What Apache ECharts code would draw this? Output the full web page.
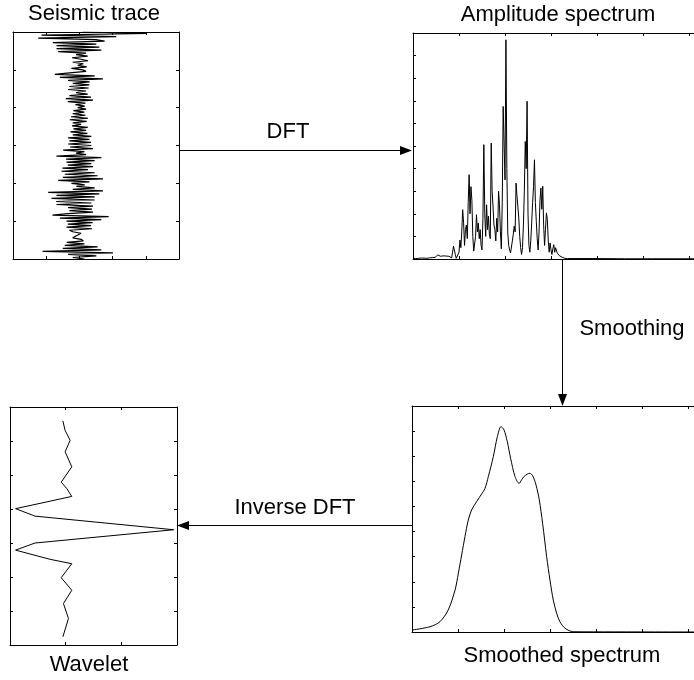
<!DOCTYPE html>
<html>
<head>
<meta charset="utf-8">
<script src="https://cdn.jsdelivr.net/npm/echarts@6/dist/echarts.min.js"></script>
<style>
  html, body { margin: 0; padding: 0; background: #fff; }
  #chart { width: 694px; height: 680px; }
</style>
</head>
<body>
<div id="chart"></div>
<script>
// Seismic trace: one amplitude per sample, first sample at the top
const traceStepMs = 4;
const traceAmp = [
  0.1, 2.02, -1.14, 1.11, -1.24, 0.5,
  0.76, -0.8, 0.51, -0.69, 0.6, -0.69, 0.66, -0.64,
  0.2, -0.1, 0.25, -0.22, 0.05, 0.26, -0.2, 0.12, -0.05, 0.22, -0.24, 0.1, 0.2, -0.3,
  -0.74, 0.46, -0.59, 0.71,
  -0.34, 0.31, -0.2, 0.3, -0.3, 0.28, -0.34,
  0.2, -0.1, 0.25, -0.3, 0.35, -0.41, 0.41,
  -0.35, 0.18, -0.12, 0.16, -0.05, 0.2, -0.18, 0.15, -0.2, 0.18,
  -0.25, 0.26, -0.29, 0.22, -0.2, 0.05, -0.22, 0.25, -0.18, 0.2, -0.27, 0.24, -0.2,
  0.36, -0.34, 0.3, -0.3, 0.35, -0.34, 0.36, -0.28,
  0.41, -0.49, 0.15, -0.1, 0.2,
  -0.69, 0.66, -0.4, 0.46,
  -0.39, 0.36, -0.35, 0.41, -0.51,
  0.26, -0.54, 0.46, -0.44, 0.55,
  -0.5, 0.71, -0.64, 0.3, -0.24,
  0.16, -0.09, 0.46, -0.2,
  0.71, -0.94, 0.6, -0.69,
  0.46, -0.84, 0.46, -0.7, 0.36,
  -0.69, 0.41, -0.34, 0.38, -0.3, 0.41, -0.34,
  -0.81, 0.88, -0.59,
  0.66, -0.39, 0.4, -0.35, 0.35, -0.39, 0.38, -0.3,
  -0.2, 0.05, 0.1, -0.12, -0.2, 0.05, 0.12, -0.38, 0.15,
  -0.44, 0.55, -0.5, 0.66,
  -1.11, 1.01, -0.34,
  0.51, -0.2, 0.15
];

// Amplitude spectrum, sampled every specStep Hz starting at 0 Hz
const specStep = 0.5;
const specAmp = [
  0.02, 0.02, 0.03, 0.02, 0.02, 0.03, 0.03, 0.02, 0.03, 0.04, 0.03, 0.03, 0.04, 0.05,
  0.04, 0.03, 0.04, 0.05, 0.05, 0.04, 0.05, 0.06, 0.05, 0.06, 0.07, 0.08, 0.1,
  0.18, 0.25, 0.15, 0.12, 0.19, 0.17, 0.14, 0.2, 0.16, 0.13, 0.18, 0.2, 0.12, 0.08, 0.15, 0.05,
  0.3, 0.57, 0.5, 0.2, 0.03, 0.02,
  0.05, 0.3, 0.84, 0.5, 1.2, 2.18,
  1.6, 0.6, 1.3, 1.5, 0.9, 2.5,
  3.73, 2.0, 3.2, 2.6, 1.0, 0.35,
  0.35, 1.0, 1.96, 1.2, 1.59, 0.9,
  1.3, 0.6, 0.4, 1.8, 5.06, 2.0,
  1.0, 2.4, 1.3, 1.9, 1.1, 0.9,
  5.13, 3.0, 2.3, 1.5, 1.3, 0.8,
  1.8, 1.2, 3.0, 2.4, 1.2, 0.45,
  2.5, 6.75, 6.77, 3.5, 9.7, 4.0,
  1.15, 0.6, 0.4, 0.27, 0.3, 0.8,
  1.1, 1.45, 1.2, 3.36, 2.8, 2.85,
  1.8, 1.0, 0.5, 0.2, 0.5, 1.5,
  3.0, 5.2, 4.0, 6.98, 2.0, 0.6,
  0.3, 0.8, 1.6, 2.5, 3.2, 4.39,
  2.5, 1.67, 0.9, 0.4, 1.2, 2.6,
  3.14, 2.2, 3.22, 1.5, 0.6, 1.3,
  2.04, 1.75, 0.8, 0.3, 0.71, 0.4,
  0.2, 0.45, 0.63, 0.3, 0.5, 0.35,
  0.25, 0.2, 0.15, 0.1, 0.12, 0.08,
  0.05, 0.04, 0.03, 0.03, 0.02, 0.02, 0.02, 0.02
];
// High-frequency tail of the spectrum (Hz, amplitude)
const specTailFreq = [88, 100, 115, 130, 145, 160];
const specTailAmp = [0.02, 0.02, 0.01, 0.01, 0.01, 0.01];

// Smoothed amplitude spectrum (Hz, amplitude)
const smoothFreq = [0.2, 9.8, 15.2, 19.7, 23.4, 25.2, 27.0, 28.8, 30.6, 32.4, 35.1, 37.9, 39.7, 41.5,
  44.2, 46.4, 48.4, 50.0, 51.8, 53.6, 56.0, 58.2, 59.6, 60.9, 62.7, 64.1, 65.6, 67.4, 69.2,
  71.0, 73.2, 75.0, 76.8, 78.6, 80.4, 83.2, 87.7, 110, 160];
const smoothAmp = [0.08, 0.21, 0.41, 0.88, 1.67, 2.34, 3.07, 3.80, 4.46, 4.86, 5.19, 5.50, 5.72, 6.19,
  6.98, 7.78, 8.18, 8.05, 7.58, 6.92, 6.19, 5.92, 6.06, 6.19, 6.29, 6.32, 6.22, 5.86, 5.26,
  4.33, 3.0, 2.07, 1.27, 0.75, 0.41, 0.15, 0.01, 0.005, 0.0];

// Extracted wavelet: time (top to bottom) and amplitude
const waveTime = [0.41, 0.69, 0.98, 1.32, 1.76, 2.21, 2.40, 2.63, 2.77, 2.99, 3.21, 3.61,
  4.0, 4.21, 4.48, 4.61, 5.02, 5.39, 5.78, 6.22, 6.76];
const waveAmp = [0.95, 0.99, 1.08, 0.99, 1.11, 0.92, 1.02, 1.11, 0.72, 0.10, 0.45, 2.94,
  0.45, 0.10, 0.72, 1.11, 0.92, 1.11, 0.96, 1.05, 0.95];

// Text
const panelTitles = ['Seismic trace', 'Amplitude spectrum', 'Wavelet', 'Smoothed spectrum'];
const stepLabels = ['DFT', 'Smoothing', 'Inverse DFT'];

const FONT = '"Liberation Sans", Arial, Helvetica, sans-serif';
const FONT_SIZE = 22;

// Panel frames: [left, top, width, height]; spectrum panels run past the right edge,
// so their right-hand axis is left out and the x range stops at the visible edge.
const panels = [
  { box: [13, 32, 166, 227], x: [-2, 3, 1], y: [0, 600, 100], inverseY: true, rightAxis: true },     // seismic trace
  { box: [413, 33, 281, 226], x: [0, 152.7, 25], y: [0, 10, 1], inverseY: false, rightAxis: false }, // amplitude spectrum
  { box: [10, 407, 167, 238], x: [0, 3, 1], y: [0, 7, 1], inverseY: true, rightAxis: true },          // wavelet
  { box: [412, 406, 282, 226], x: [0, 153.3, 25], y: [0, 9, 1], inverseY: false, rightAxis: false }   // smoothed spectrum
];

const axisCommon = {
  axisLine: { show: true, onZero: false, lineStyle: { color: '#000', width: 1 } },
  axisTick: { show: true, inside: true, length: 3, lineStyle: { color: '#000', width: 1 } },
  axisLabel: { show: false },
  splitLine: { show: false }
};

const grids = [], xAxes = [], yAxes = [];
panels.forEach((p, g) => {
  grids.push({ left: p.box[0], top: p.box[1], width: p.box[2], height: p.box[3], containLabel: false });
  ['bottom', 'top'].forEach(pos => xAxes.push(Object.assign({}, axisCommon, {
    type: 'value', gridIndex: g, position: pos, min: p.x[0], max: p.x[1], interval: p.x[2]
  })));
  ['left', 'right'].forEach(pos => yAxes.push(Object.assign({}, axisCommon, {
    type: 'value', gridIndex: g, position: pos, min: p.y[0], max: p.y[1], interval: p.y[2], inverse: p.inverseY,
    show: pos === 'left' || p.rightAxis
  })));
});

const lineBase = {
  type: 'line', showSymbol: false, symbol: 'none', silent: true, animation: false,
  lineStyle: { color: '#000', width: 1 }
};

const traceData = traceAmp.map((a, i) => [a, i * traceStepMs]);
const specData = specAmp.map((a, i) => [i * specStep, a])
  .concat(specTailFreq.map((f, i) => [f, specTailAmp[i]]));
const smoothData = smoothFreq.map((f, i) => [f, smoothAmp[i]]);
const waveData = waveTime.map((t, i) => [waveAmp[i], t]);

const series = [
  Object.assign({}, lineBase, { xAxisIndex: 0, yAxisIndex: 0, data: traceData, lineStyle: { color: '#000', width: 1.2 } }),
  Object.assign({}, lineBase, { xAxisIndex: 2, yAxisIndex: 2, data: specData }),
  Object.assign({}, lineBase, { xAxisIndex: 4, yAxisIndex: 4, data: waveData }),
  Object.assign({}, lineBase, { xAxisIndex: 6, yAxisIndex: 6, data: smoothData, smooth: 0.3 })
];

// Arrow helper: shaft plus filled head pointing to (x2, y2)
function arrow(x1, y1, x2, y2) {
  const len = 12, half = 4.5;
  const dx = x2 - x1, dy = y2 - y1, d = Math.hypot(dx, dy);
  const ux = dx / d, uy = dy / d;
  const bx = x2 - ux * len, by = y2 - uy * len;
  return [
    { type: 'line', silent: true, shape: { x1: x1, y1: y1, x2: bx, y2: by },
      style: { stroke: '#000', lineWidth: 1 } },
    { type: 'polygon', silent: true,
      shape: { points: [[x2, y2], [bx - uy * half, by + ux * half], [bx + uy * half, by - ux * half]] },
      style: { fill: '#000' } }
  ];
}

function label(text, x, y) {
  return { type: 'text', silent: true, x: x, y: y,
    style: { text: text, fill: '#000', font: FONT_SIZE + 'px ' + FONT, align: 'center', verticalAlign: 'middle' } };
}

const graphics = []
  .concat(arrow(179, 150.5, 412, 150.5))
  .concat(arrow(562.5, 259, 562.5, 406))
  .concat(arrow(412, 525.5, 177, 525.5))
  .concat([
    label(panelTitles[0], 94, 14),
    label(panelTitles[1], 558, 15),
    label(panelTitles[2], 89, 665),
    label(panelTitles[3], 562, 656),
    label(stepLabels[0], 288, 132),
    label(stepLabels[1], 632, 329),
    label(stepLabels[2], 295, 508)
  ]);

const chart = echarts.init(document.getElementById('chart'), null, { renderer: 'canvas' });
chart.setOption({
  animation: false,
  backgroundColor: '#fff',
  grid: grids,
  xAxis: xAxes,
  yAxis: yAxes,
  series: series,
  graphic: { elements: graphics }
});
</script>
</body>
</html>
